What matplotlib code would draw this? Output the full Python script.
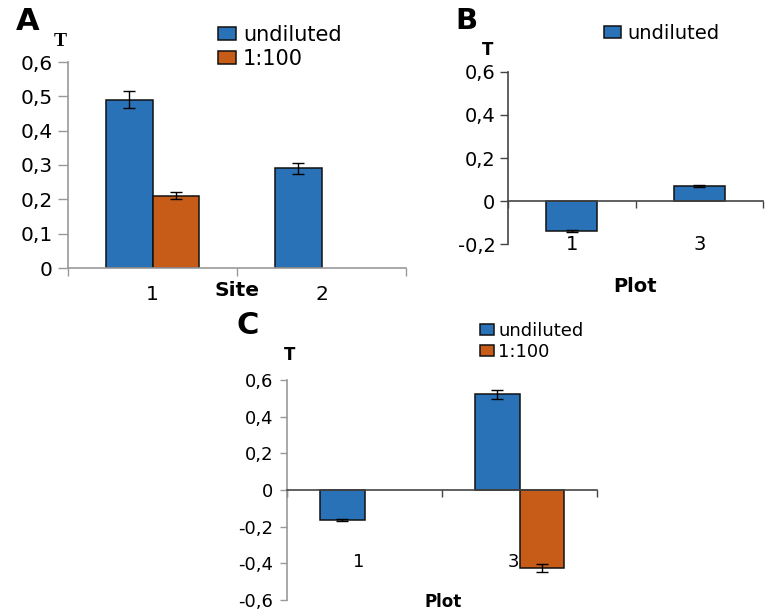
import numpy as np
import matplotlib
matplotlib.use('Agg')
import matplotlib.pyplot as plt
from matplotlib.ticker import FuncFormatter

# panel A - T by site
sites_a = ['1', '2']
a_undiluted = [0.49, 0.29]
a_undiluted_err = [0.025, 0.015]
a_diluted = [0.21, np.nan]
a_diluted_err = [0.01, 0.0]

# panel B - T by plot (undiluted only)
plots_b = ['1', '3']
b_undiluted = [-0.14, 0.07]
b_undiluted_err = [0.004, 0.003]

# panel C - T by plot
plots_c = ['1', '3']
c_undiluted = [-0.163, 0.522]
c_undiluted_err = [0.005, 0.026]
c_diluted = [np.nan, -0.425]
c_diluted_err = [0.0, 0.022]

BLUE = '#2a72b7'
ORANGE = '#c75c18'
W, H = 766, 612


def fx(x):
    return x / W


def fy(y):
    return 1 - y / H


def comma_fmt(v, pos):
    if abs(v) < 1e-9:
        return '0'
    return ('%.1f' % v).replace('.', ',')


fig = plt.figure(figsize=(7.66, 6.12), dpi=100)
plt.rcParams['font.family'] = ['DejaVu Sans']

err_kw = dict(ecolor='black', elinewidth=1, capsize=4, capthick=1)

# ---------------- A ----------------
ax = fig.add_axes([fx(68), fy(268), fx(406 - 68), (268 - 62) / H])
x = np.arange(len(sites_a))
wa = 0.278
ax.bar(x - wa / 2, a_undiluted, wa, yerr=a_undiluted_err, color=BLUE,
       edgecolor='#111111', linewidth=1.1, error_kw=err_kw, label='undiluted')
ax.bar(x + wa / 2, a_diluted, wa, yerr=a_diluted_err, color=ORANGE,
       edgecolor='#111111', linewidth=1.1, error_kw=err_kw, label='1:100')
ax.set_xlim(-0.5, 1.5)
ax.set_ylim(0, 0.6)
ax.set_yticks(np.arange(0, 0.61, 0.1))
ax.yaxis.set_major_formatter(FuncFormatter(comma_fmt))
ax.tick_params(axis='y', labelsize=14.5, length=7, width=1, color='#999999', pad=4)
ax.set_xticks(x)
ax.set_xticklabels(sites_a, fontsize=14.5)
ax.tick_params(axis='x', length=0, pad=12)
ax.set_xticks([-0.5, 0.5, 1.5], minor=True)
ax.tick_params(axis='x', which='minor', length=6, width=1, color='#999999')
for s in ['top', 'right']:
    ax.spines[s].set_visible(False)
for s in ['left', 'bottom']:
    ax.spines[s].set_color('#999999')
    ax.spines[s].set_linewidth(1.2)
ax.text(0.5, -0.065, 'Site', ha='center', va='center', fontsize=14.5, fontweight='bold')
ax.legend(loc='upper left', bbox_to_anchor=(fx(218), fy(25)), bbox_transform=fig.transFigure,
          frameon=False, fontsize=15, handlelength=0.85, handleheight=0.6,
          handletextpad=0.35, labelspacing=0.2, borderpad=0, borderaxespad=0)
fig.text(fx(16), fy(22), 'A', fontsize=22, fontweight='bold', va='center')
fig.text(fx(60), fy(42), 'T', fontsize=14, fontweight='bold', va='center', ha='center',
         family='Liberation Serif')

# ---------------- B ----------------
ax = fig.add_axes([fx(508), fy(244.3), fx(763 - 508), (244.3 - 71.7) / H])
x = np.arange(len(plots_b))
wb = 0.40
ax.bar(x, b_undiluted, wb, yerr=b_undiluted_err, color=BLUE,
       edgecolor='#111111', linewidth=1.1, error_kw=err_kw, label='undiluted')
ax.set_xlim(-0.5, 1.5)
ax.set_ylim(-0.2, 0.6)
ax.set_yticks(np.arange(-0.2, 0.61, 0.2))
ax.yaxis.set_major_formatter(FuncFormatter(comma_fmt))
ax.tick_params(axis='y', labelsize=14, length=6, width=1, color='#444444', pad=3)
ax.spines['bottom'].set_position(('data', 0))
ax.set_xticks([-0.5, 0.5, 1.5])
ax.set_xticklabels([])
ax.tick_params(axis='x', length=5, width=1, color='#444444')
for s in ['top', 'right']:
    ax.spines[s].set_visible(False)
for s in ['left', 'bottom']:
    ax.spines[s].set_color('#444444')
    ax.spines[s].set_linewidth(1.2)
for xi, lab in zip(x, plots_b):
    ax.text(xi, -0.2, lab, ha='center', va='center', fontsize=14)
ax.text(0.5, -0.395, 'Plot', ha='center', va='center', fontsize=14, fontweight='bold')
ax.legend(loc='upper left', bbox_to_anchor=(fx(604), fy(24)), bbox_transform=fig.transFigure,
          frameon=False, fontsize=14, handlelength=0.85, handleheight=0.6,
          handletextpad=0.35, borderpad=0, borderaxespad=0)
fig.text(fx(455), fy(21), 'B', fontsize=21, fontweight='bold', va='center')
fig.text(fx(488), fy(50), 'T', fontsize=12, fontweight='bold', va='center', ha='center')

# ---------------- C ----------------
ax = fig.add_axes([fx(287), fy(600), fx(597 - 287), (600 - 380) / H])
x = np.arange(len(plots_c))
wc = 0.29
ax.bar(x - wc / 2, c_undiluted, wc, yerr=c_undiluted_err, color=BLUE,
       edgecolor='#111111', linewidth=1.1, error_kw=err_kw, label='undiluted')
ax.bar(x + wc / 2, c_diluted, wc, yerr=c_diluted_err, color=ORANGE,
       edgecolor='#111111', linewidth=1.1, error_kw=err_kw, label='1:100')
ax.set_xlim(-0.5, 1.5)
ax.set_ylim(-0.6, 0.6)
ax.set_yticks(np.arange(-0.6, 0.61, 0.2))
ax.yaxis.set_major_formatter(FuncFormatter(comma_fmt))
ax.tick_params(axis='y', labelsize=13, length=5, width=1, color='#999999', pad=5)
ax.spines['bottom'].set_position(('data', 0))
ax.set_xticks([-0.5, 0.5, 1.5])
ax.set_xticklabels([])
ax.tick_params(axis='x', length=5, width=1, color='#444444')
for s in ['top', 'right']:
    ax.spines[s].set_visible(False)
ax.spines['left'].set_color('#999999')
ax.spines['left'].set_linewidth(1.2)
ax.spines['bottom'].set_color('#444444')
ax.spines['bottom'].set_linewidth(1.2)
for xi, lab in zip(x, plots_c):
    ax.text(xi - 0.04, -0.395, lab, ha='center', va='center', fontsize=13, zorder=0)
fig.text(fx(443), fy(611), 'Plot', ha='center', va='bottom', fontsize=12, fontweight='bold')
ax.legend(loc='upper left', bbox_to_anchor=(fx(480), fy(322)), bbox_transform=fig.transFigure,
          frameon=False, fontsize=13, handlelength=0.75, handleheight=0.6,
          handletextpad=0.25, labelspacing=0.15, borderpad=0, borderaxespad=0)
fig.text(fx(236), fy(325), 'C', fontsize=22, fontweight='bold', va='center')
fig.text(fx(290), fy(355), 'T', fontsize=12, fontweight='bold', va='center', ha='center')

fig.savefig('out.png', dpi=100)
